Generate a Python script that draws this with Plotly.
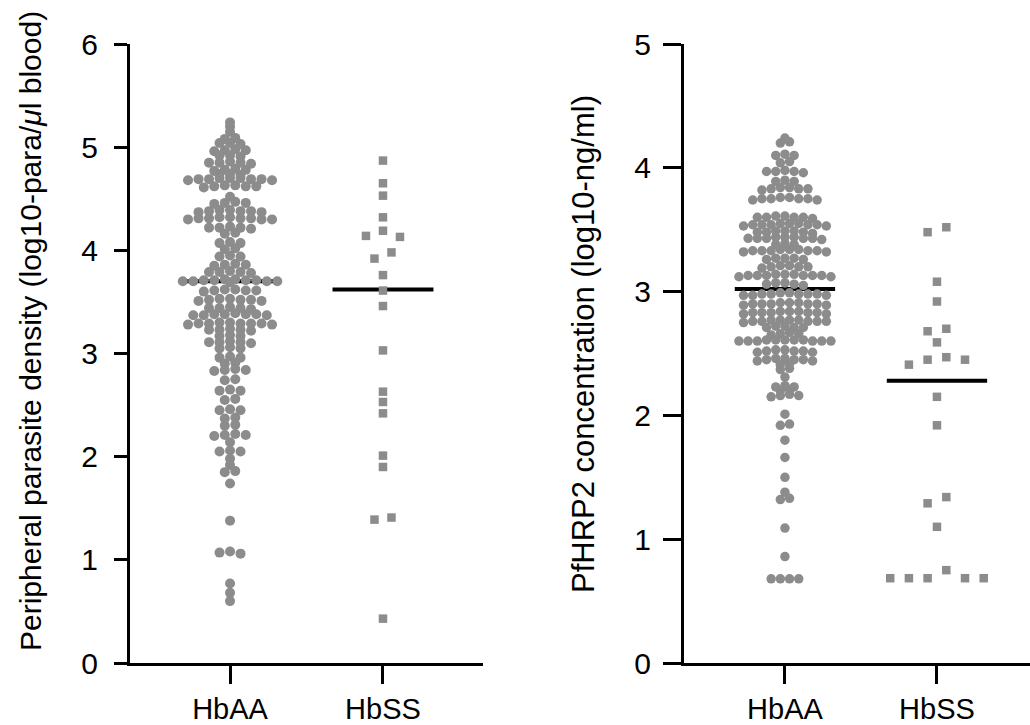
import plotly.graph_objects as go

# ---------------- data ----------------
categories = ["HbAA", "HbSS"]

density_hbaa = [
    5.24, 5.20, 5.15, 5.09, 5.08, 5.04, 5.03, 5.04,
    4.98, 4.97, 4.97, 4.96, 4.92, 4.91, 4.92,
    4.86, 4.85, 4.85, 4.84, 4.85, 4.79, 4.78, 4.78, 4.77, 4.74, 4.74, 4.73,
    4.70, 4.69, 4.69, 4.68, 4.70, 4.69, 4.68, 4.69, 4.70,
    4.63, 4.62, 4.62, 4.61, 4.62, 4.63, 4.52,
    4.47, 4.46, 4.46, 4.45,
    4.39, 4.38, 4.38, 4.37, 4.38, 4.39, 4.37,
    4.32, 4.31, 4.31, 4.30, 4.31, 4.32, 4.30, 4.31, 4.30,
    4.23, 4.22, 4.22, 4.21, 4.22, 4.17, 4.16,
    4.08, 4.07, 4.07, 4.02, 4.01, 3.95, 3.94, 3.94,
    3.87, 3.86, 3.86, 3.85, 3.80, 3.79, 3.79, 3.78, 3.79,
    3.72, 3.71, 3.71, 3.70, 3.70, 3.71, 3.72, 3.70, 3.69, 3.71, 3.70,
    3.62, 3.61, 3.61, 3.60, 3.61, 3.62,
    3.53, 3.52, 3.52, 3.51, 3.52, 3.53, 3.51,
    3.45, 3.44, 3.44, 3.43, 3.44,
    3.38, 3.38, 3.37, 3.37, 3.38, 3.39, 3.37, 3.38,
    3.30, 3.29, 3.29, 3.28, 3.29, 3.30, 3.28, 3.29, 3.29,
    3.24, 3.23, 3.23, 3.22, 3.23, 3.18, 3.17, 3.17,
    3.12, 3.11, 3.11, 3.10, 3.11, 3.06, 3.05, 3.05,
    2.97, 2.96, 2.96, 2.91, 2.90, 2.85, 2.84, 2.84, 2.83,
    2.75, 2.74, 2.65, 2.64, 2.64, 2.56, 2.55,
    2.46, 2.45, 2.45, 2.38, 2.37, 2.31, 2.30,
    2.22, 2.21, 2.21, 2.20, 2.14, 2.06, 2.05, 2.05,
    1.98, 1.92, 1.86, 1.85, 1.74, 1.38, 1.08, 1.07, 1.06,
    0.77, 0.68, 0.60,
]
density_hbss = [
    4.87, 4.65, 4.53, 4.32, 4.19, 4.14, 4.13, 3.98, 3.92, 3.76, 3.61,
    3.46, 3.03, 2.63, 2.53, 2.42, 2.01, 1.90, 1.41, 1.39, 0.43,
]

hrp2_hbaa = [
    4.24, 4.21, 4.20, 4.11, 4.10, 4.10, 4.05, 4.04,
    3.98, 3.97, 3.97, 3.96, 3.97, 3.90, 3.89, 3.89,
    3.84, 3.83, 3.83, 3.82, 3.83, 3.84,
    3.76, 3.75, 3.75, 3.74, 3.75, 3.76, 3.74, 3.75,
    3.61, 3.60, 3.60, 3.59, 3.60, 3.61, 3.60,
    3.55, 3.54, 3.54, 3.53, 3.54, 3.55, 3.53, 3.54, 3.54, 3.55,
    3.49, 3.48, 3.48, 3.49, 3.48, 3.49, 3.47,
    3.44, 3.43, 3.43, 3.44, 3.43, 3.44, 3.42, 3.43, 3.43,
    3.39, 3.38, 3.38,
    3.34, 3.33, 3.33, 3.32, 3.33, 3.34, 3.32, 3.33, 3.33, 3.34,
    3.27, 3.26, 3.27, 3.26, 3.27,
    3.21, 3.20, 3.20, 3.19, 3.20, 3.21,
    3.14, 3.13, 3.13, 3.12, 3.13, 3.14, 3.12, 3.13, 3.13, 3.14, 3.13,
    3.07, 3.07, 3.06, 3.06, 3.05,
    2.99, 2.98, 2.98, 2.97, 2.98, 2.99, 2.97, 2.98, 2.98, 2.97,
    2.91, 2.90, 2.90, 2.89, 2.90, 2.91, 2.89, 2.90, 2.90, 2.91,
    2.84, 2.83, 2.83, 2.82, 2.83, 2.84, 2.82, 2.83, 2.83, 2.84,
    2.77, 2.76, 2.76, 2.77, 2.76, 2.77, 2.75, 2.76, 2.76, 2.77,
    2.72, 2.71, 2.71, 2.72, 2.71,
    2.67, 2.66, 2.66, 2.65,
    2.61, 2.61, 2.61, 2.61, 2.61, 2.60, 2.60, 2.60, 2.60, 2.60, 2.60,
    2.53, 2.52, 2.52, 2.51, 2.52, 2.53, 2.51,
    2.46, 2.45, 2.45, 2.44, 2.45, 2.46, 2.44,
    2.42, 2.41, 2.38, 2.37, 2.31, 2.24, 2.23, 2.23, 2.21, 2.20,
    2.17, 2.16, 2.16, 2.15,
    2.01, 1.93, 1.92, 1.80, 1.66, 1.50, 1.38, 1.33, 1.32, 1.09, 0.86,
    0.68, 0.68, 0.68, 0.68,
]
hrp2_hbss = [
    3.52, 3.48, 3.08, 2.92, 2.70, 2.68, 2.59, 2.47, 2.45, 2.45, 2.41,
    2.15, 1.92, 1.34, 1.29, 1.10, 0.75, 0.685, 0.685, 0.685, 0.685, 0.685,
]

density_medians = [3.70, 3.62]
hrp2_medians = [3.02, 2.28]

density_ticks = [0, 1, 2, 3, 4, 5, 6]
hrp2_ticks = [0, 1, 2, 3, 4, 5]

density_title = "Peripheral parasite density (log10-para/<i>\u03bc</i>l blood)"
hrp2_title = "PfHRP2 concentration (log10-ng/ml)"

# ---------------- geometry / style ----------------
W, H = 1030, 725
FONT = "Liberation Sans, Arial, Helvetica, sans-serif"
GREY = "#8c8c8c"
Y_TOP, Y_BOT = 44, 663
L_DOM = (130, 483)
R_DOM = (684, 1030)
L_XR = [0.346, 2.654]
R_XR = [0.336, 2.612]
L_YR = [0, 6]
R_YR = [0, 5]


def px_per_unit(dom, rng):
    return (dom[1] - dom[0]) / (rng[1] - rng[0])


def row_offsets(values, tol_px, spacing_px, ypx, xpx):
    """Prism-style row layout: values within tol share a row, centred."""
    tol = tol_px / ypx
    order = sorted(range(len(values)), key=lambda i: -values[i])
    rows = []
    for i in order:
        if rows and values[rows[-1][0]] - values[i] <= tol:
            rows[-1].append(i)
        else:
            rows.append([i])
    offs = [0.0] * len(values)
    for row in rows:
        k = len(row)
        if k % 2 == 1:
            slots = [0.0]
            for j in range(1, k // 2 + 1):
                slots += [-j, j]
        else:
            slots = []
            for j in range(k // 2):
                slots += [j + 0.5, -(j + 0.5)]
        for idx, s in zip(row, slots):
            offs[idx] = s * spacing_px / xpx
    return offs


fig = go.Figure()

panels = [
    ("x", "y", L_DOM, L_XR, L_YR, density_hbaa, density_hbss, density_medians, 10.5, 17.0, 10),
    ("x2", "y2", R_DOM, R_XR, R_YR, hrp2_hbaa, hrp2_hbss, hrp2_medians, 9.2, 18.7, 9.5),
]

for xa, ya, dom, xr, yr, aa, ss, meds, csp, ssp, msize in panels:
    xpx = px_per_unit(dom, xr)
    ypx = (Y_BOT - Y_TOP) / (yr[1] - yr[0])
    for ci, m in enumerate(meds):
        xc = ci + 1
        fig.add_trace(go.Scatter(
            x=[xc - 0.33, xc + 0.33], y=[m, m], mode="lines",
            line=dict(color="black", width=4), xaxis=xa, yaxis=ya,
            showlegend=False, hoverinfo="skip"))
    off_aa = row_offsets(aa, 3.0, csp, ypx, xpx)
    fig.add_trace(go.Scatter(
        x=[1 + o for o in off_aa], y=aa, mode="markers",
        marker=dict(symbol="circle", size=msize, color=GREY, line=dict(width=0)),
        xaxis=xa, yaxis=ya, showlegend=False, cliponaxis=False))
    off_ss = row_offsets(ss, 8.5, ssp, ypx, xpx)
    fig.add_trace(go.Scatter(
        x=[2 + o for o in off_ss], y=ss, mode="markers",
        marker=dict(symbol="square", size=8.5, color=GREY, line=dict(width=0)),
        xaxis=xa, yaxis=ya, showlegend=False, cliponaxis=False))

ydom = [(H - Y_BOT) / H, (H - Y_TOP) / H]

common_axis = dict(
    showline=True, linecolor="black", linewidth=3, ticks="outside",
    tickcolor="black", tickwidth=3, showgrid=False, zeroline=False,
    automargin=False,
)
xfont = dict(family=FONT, size=29, color="black")
yfont = dict(family=FONT, size=30, color="black")

fig.update_layout(
    width=W, height=H, margin=dict(l=0, r=0, t=0, b=0),
    paper_bgcolor="white", plot_bgcolor="white",
    font=dict(family=FONT, color="black"),
    xaxis=dict(domain=[L_DOM[0] / W, L_DOM[1] / W], range=L_XR,
               tickvals=[1, 2], ticktext=categories, ticklen=18,
               ticklabelstandoff=0, anchor="y", tickfont=xfont, **common_axis),
    yaxis=dict(domain=ydom, range=L_YR, tickvals=density_ticks, ticklen=13,
               ticklabelstandoff=10, anchor="x", tickfont=yfont, **common_axis),
    xaxis2=dict(domain=[R_DOM[0] / W, R_DOM[1] / W], range=R_XR,
                tickvals=[1, 2], ticktext=categories, ticklen=18,
                ticklabelstandoff=0, anchor="y2", tickfont=xfont, **common_axis),
    yaxis2=dict(domain=ydom, range=R_YR, tickvals=hrp2_ticks, ticklen=18,
                ticklabelstandoff=6, anchor="x2", tickfont=yfont, **common_axis),
    annotations=[
        dict(text=density_title, textangle=-90, x=30 / W, y=1 - 331 / H,
             xref="paper", yref="paper", xanchor="center", yanchor="middle",
             showarrow=False, font=dict(family=FONT, size=30, color="black")),
        dict(text=hrp2_title, textangle=-90, x=583 / W, y=1 - 344 / H,
             xref="paper", yref="paper", xanchor="center", yanchor="middle",
             showarrow=False, font=dict(family=FONT, size=31, color="black")),
    ],
)

fig.write_html("out.html", config={"displayModeBar": False},
               post_script="document.body.style.margin='0px';")
